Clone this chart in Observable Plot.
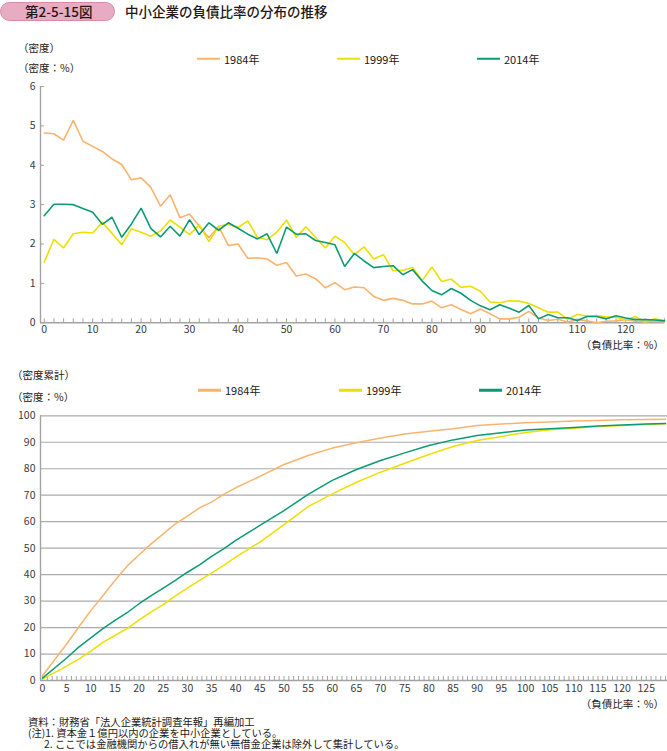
<!DOCTYPE html>
<html><head><meta charset="utf-8">
<script src="https://cdn.jsdelivr.net/npm/d3@7"></script>
<script src="https://cdn.jsdelivr.net/npm/@observablehq/plot@0.6"></script>
<style>
body{margin:0;background:#fff;}
#root{position:relative;width:667px;height:751px;font-family:"Noto Sans CJK JP",sans-serif;color:#231815;overflow:hidden;background:#fff;}
.t{position:absolute;white-space:nowrap;line-height:1;transform:translateY(-50%);}
.sw{position:absolute;height:2.5px;width:23px;transform:translateY(-50%);}
.chart{position:absolute;left:0;}
</style></head><body><div id="root"></div>
<script>
// ---- data ----
const years = ["1984年", "1999年", "2014年"];
const colors = ["#f9b46c", "#ece000", "#0b9b74"];

// density (top chart), debt ratio every 2 points
const densX = [0,2,4,6,8,10,12,14,16,18,20,22,24,26,28,30,32,34,36,38,40,42,44,46,48,50,52,54,56,58,60,62,64,66,68,70,72,74,76,78,80,82,84,86,88,90,92,94,96,98,100,102,104,106,108,110,112,114,116,118,120,122,124,126,128];
const dens1984 = [4.82,4.80,4.64,5.14,4.61,4.48,4.35,4.16,4.02,3.63,3.68,3.44,2.96,3.25,2.67,2.76,2.45,2.16,2.45,1.96,2.00,1.64,1.65,1.62,1.46,1.53,1.19,1.24,1.12,0.89,1.02,0.84,0.91,0.89,0.67,0.57,0.62,0.57,0.48,0.48,0.55,0.38,0.46,0.34,0.23,0.35,0.23,0.10,0.10,0.14,0.29,0.12,0.06,0.09,0.02,0.08,0.05,0.00,0.04,0.05,0.08,0.04,0.03,0.04,0.02];
const dens1999 = [1.54,2.12,1.90,2.26,2.30,2.28,2.55,2.27,1.98,2.39,2.30,2.20,2.33,2.61,2.43,2.24,2.49,2.06,2.45,2.50,2.42,2.59,2.17,2.11,2.30,2.61,2.17,2.44,2.17,1.90,2.20,2.04,1.73,1.93,1.62,1.73,1.32,1.33,1.41,1.07,1.42,1.05,1.11,0.90,0.93,0.80,0.53,0.51,0.56,0.55,0.49,0.38,0.27,0.27,0.09,0.21,0.17,0.18,0.15,0.14,0.07,0.16,0.02,0.10,0.05];
const dens2014 = [2.72,3.01,3.01,3.00,2.90,2.81,2.50,2.68,2.17,2.51,2.91,2.40,2.18,2.45,2.20,2.62,2.24,2.54,2.35,2.54,2.40,2.25,2.13,2.26,1.76,2.43,2.25,2.26,2.09,2.04,1.98,1.43,1.76,1.57,1.40,1.43,1.45,1.22,1.35,1.06,0.82,0.71,0.87,0.75,0.57,0.43,0.33,0.46,0.37,0.27,0.44,0.10,0.21,0.13,0.13,0.06,0.16,0.16,0.10,0.18,0.12,0.08,0.08,0.07,0.05];

// cumulative density (bottom chart)
const cumX = [0,5,7.5,10,12.5,15,17.5,20,22.5,25,27.5,30,32.5,35,37.5,40,45,50,55,60,65,70,75,80,85,90,95,100,105,110,115,120,125,129];
const cum1984 = [1.8,13.8,20.2,26.4,32.0,37.8,43.2,47.5,51.6,55.4,59.2,62.1,65.2,67.4,70.3,72.8,77.1,81.6,85.0,87.8,89.8,91.6,93.1,94.2,95.1,96.3,96.9,97.4,97.7,98.0,98.2,98.5,98.6,98.7];
const cum1999 = [0.5,5.4,8.1,11.1,14.4,17.0,19.6,22.9,25.9,28.7,32.0,34.9,37.8,40.6,43.5,46.6,52.3,58.9,65.7,70.5,74.9,78.7,82.1,85.4,88.4,90.7,92.2,93.7,94.7,95.3,96.0,96.3,96.7,97.0];
const cum2014 = [0.9,8.5,12.6,16.1,19.6,22.7,25.6,29.0,32.1,34.9,37.8,40.9,43.7,46.9,49.7,52.9,58.6,64.2,70.3,75.6,79.7,83.1,86.0,88.8,90.9,92.6,93.6,94.6,95.1,95.6,96.1,96.5,96.9,97.1];

// ticks
const topXLabels = [0,10,20,30,40,50,60,70,80,90,100,110,120];
const topXMinor = d3.range(0, 129, 2);
const topYTicks = [0,1,2,3,4,5,6];
const botXLabels = [0,5,10,15,20,25,30,35,40,45,50,55,60,65,70,75,80,85,90,95,100,105,110,115,120,125];
const botXMinor = d3.range(0, 130, 1);
const botYTicks = [0,10,20,30,40,50,60,70,80,90,100];

// footnotes
const footLines = [
  "資料：財務省「法人企業統計調査年報」再編加工",
  "(注)1. 資本金１億円以内の企業を中小企業としている。",
  "\u3000\u2002\u200A2. ここでは金融機関からの借入れが無い無借金企業は除外して集計している。"
];

// ---- build tables ----
const densRows = [];
[dens1984, dens1999, dens2014].forEach((arr, k) => arr.forEach((v, i) => densRows.push({x: densX[i], y: v, s: years[k]})));
const cumRows = [];
[cum1984, cum1999, cum2014].forEach((arr, k) => arr.forEach((v, i) => cumRows.push({x: cumX[i], y: v, s: years[k]})));

const root = document.getElementById("root");
function text(str, x, y, size, extra) {
  const d = document.createElement("div");
  d.className = "t";
  d.textContent = str;
  d.style.left = x + "px";
  d.style.top = y + "px";
  d.style.fontSize = size + "px";
  if (extra) Object.assign(d.style, extra);
  root.appendChild(d);
  return d;
}
function legend(y, xs) {
  years.forEach((yr, k) => {
    const s = document.createElement("div");
    s.className = "sw";
    s.style.left = xs[k] + "px";
    s.style.top = y + "px";
    s.style.background = colors[k];
    root.appendChild(s);
    text(yr, xs[k] + 27, y, 11);
  });
}

// header
const pill = document.createElement("div");
Object.assign(pill.style, {position:"absolute", left:"0px", top:"2px", width:"115px", height:"19px",
  background:"#e8acc2", border:"1px solid #d98aa6", borderRadius:"10px", boxSizing:"border-box"});
root.appendChild(pill);
text("第2-5-15図", 25, 12, 13.5, {fontWeight:"500"});
text("中小企業の負債比率の分布の推移", 125, 12, 13.5, {fontWeight:"500"});

// top labels
text("（密度）", 18, 48, 10.5);
text("（密度：%）", 18, 68, 10.5);
legend(58.5, [197, 337, 477]);
text("（負債比率：%）", 0, 345, 10.5, {left:"auto", right:"3px"});

// bottom labels
text("（密度累計）", 12, 375, 10.5);
text("（密度：%）", 12, 397, 10.5);
legend(390, [198, 339, 479]);
text("（負債比率：%）", 0, 704, 10.5, {left:"auto", right:"3px"});

// footer (single block)
const foot = document.createElement("div");
foot.textContent = footLines.join("\n");
Object.assign(foot.style, {position:"absolute", left:"28px", top:"715.5px", fontSize:"10.3px",
  lineHeight:"11px", whiteSpace:"pre"});
root.appendChild(foot);

const axisColor = "#a3a3a3";
const styleObj = {fontFamily: '"Noto Sans CJK JP", sans-serif', fontSize: "10.5px", color: "#3a3a3a", background: "transparent", overflow: "visible"};

// ---- top chart ----
const topChart = Plot.plot({
  width: 667, height: 280,
  marginLeft: 40, marginRight: 3, marginTop: 16, marginBottom: 27.7,
  x: {domain: [0, 128], insetLeft: 3.7},
  y: {domain: [0, 6]},
  color: {domain: years, range: colors},
  style: styleObj,
  marks: [
    Plot.ruleY([0], {stroke: axisColor, strokeWidth: 1.4}),
    Plot.ruleX([0], {stroke: axisColor, strokeWidth: 1.4, dx: -3.7}),
    Plot.axisX({ticks: topXMinor, tickSize: -4, tickFormat: () => "", stroke: axisColor, strokeWidth: 1, label: null}),
    Plot.axisX({ticks: topXLabels, tickSize: 0, tickPadding: 3, tickFormat: d3.format("d"), label: null, fill: "#3a3a3a"}),
    Plot.axisY({ticks: topYTicks, tickSize: -4, tickFormat: () => "", stroke: axisColor, strokeWidth: 1, label: null}),
    Plot.axisY({ticks: topYTicks, tickSize: 0, tickPadding: 5, tickFormat: d3.format("d"), label: null, fill: "#3a3a3a"}),
    Plot.line(densRows, {x: "x", y: "y", z: "s", stroke: "s", strokeWidth: 1.6, strokeLinejoin: "miter"})
  ]
});
topChart.classList.add("chart");
topChart.style.top = "70px";
root.appendChild(topChart);

// ---- bottom chart ----
const botChart = Plot.plot({
  width: 667, height: 300,
  marginLeft: 40, marginRight: 0, marginTop: 15.3, marginBottom: 20,
  x: {domain: [0, 129.4], insetLeft: 2},
  y: {domain: [0, 100]},
  color: {domain: years, range: colors},
  style: styleObj,
  marks: [
    Plot.gridY({ticks: botYTicks.filter(d => d > 0), stroke: "#ababab", strokeOpacity: 1, strokeWidth: 1.2}),
    Plot.ruleY([0], {stroke: axisColor, strokeWidth: 1.4}),
    Plot.ruleX([0], {stroke: axisColor, strokeWidth: 1.4, dx: -2}),
    Plot.axisX({ticks: botXMinor, tickSize: -4, tickFormat: () => "", stroke: axisColor, strokeWidth: 1, label: null}),
    Plot.axisX({ticks: botXLabels, tickSize: 0, tickPadding: 4, tickFormat: d3.format("d"), label: null, fill: "#3a3a3a"}),
    Plot.axisY({ticks: botYTicks, tickSize: 0, tickPadding: 5, tickFormat: d3.format("d"), label: null, fill: "#3a3a3a"}),
    Plot.line(cumRows, {x: "x", y: "y", z: "s", stroke: "s", strokeWidth: 1.5})
  ]
});
botChart.classList.add("chart");
botChart.style.top = "400px";
root.appendChild(botChart);
</script></body></html>
